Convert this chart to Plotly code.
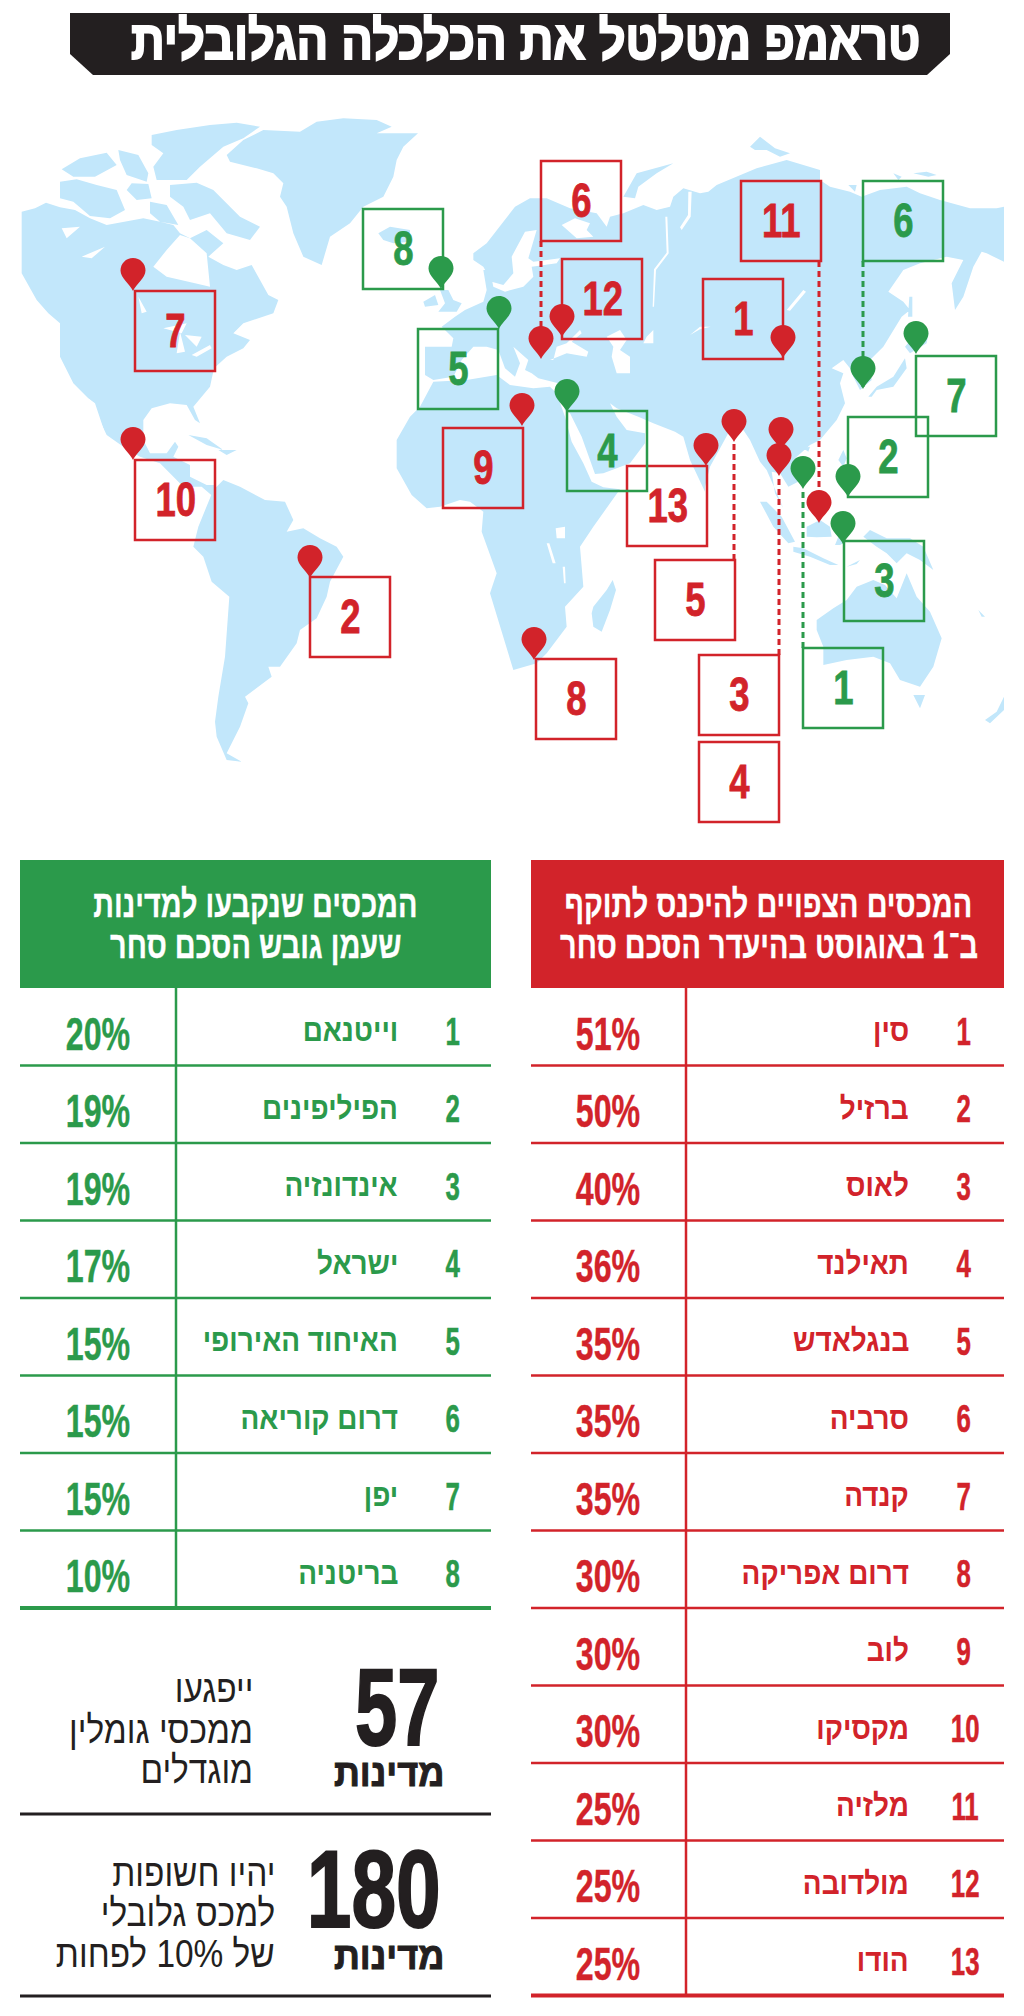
import json

import plotly.graph_objects as go

RED = "#d2232a"
GREEN = "#2b9a4b"
DARK = "#231f20"
LAND = "#c2e7fb"
FONT = "Liberation Sans, Arial, sans-serif"

TITLE = "טראמפ מטלטל את הכלכלה הגלובלית"
RED_HEADER = ["המכסים הצפויים להיכנס לתוקף", "ב־1 באוגוסט בהיעדר הסכם סחר"]
GREEN_HEADER = ["המכסים שנקבעו למדינות", "שעמן גובש הסכם סחר"]

red_names = ["סין", "ברזיל", "לאוס", "תאילנד", "בנגלאדש", "סרביה", "קנדה",
             "דרום אפריקה", "לוב", "מקסיקו", "מלזיה", "מולדובה", "הודו"]
red_rates = [51, 50, 40, 36, 35, 35, 35, 30, 30, 30, 25, 25, 25]
green_names = ["וייטנאם", "הפיליפינים", "אינדונזיה", "ישראל", "האיחוד האירופי",
               "דרום קוריאה", "יפן", "בריטניה"]
green_rates = [20, 19, 19, 17, 15, 15, 15, 10]

stat_values = ["57", "180"]
stat_unit = "מדינות"
stat_lines = [["ייפגעו", "ממכסי גומלין", "מוגדלים"],
              ["יהיו חשופות", "למכס גלובלי", "של 10% לפחות"]]

# map callouts, rank order: box corner and pin tip in page pixels
red_box_x = [703, 310, 699, 699, 655, 541, 135, 536, 443, 135, 741, 562, 627]
red_box_y = [279, 577, 655, 742, 560, 161, 291, 659, 428, 460, 181, 259, 466]
red_pin_x = [783, 310, 779, 781, 734, 541, 133, 534, 522, 133, 819, 562, 706]
red_pin_y = [358, 578, 476, 450, 442, 359, 291, 660, 426, 460, 523, 337, 466]
green_box_x = [803, 848, 844, 567, 418, 863, 916, 363]
green_box_y = [648, 417, 541, 411, 329, 181, 356, 209]
green_pin_x = [803, 848, 843, 567, 499, 863, 916, 441]
green_pin_y = [489, 497, 544, 412, 329, 389, 354, 289]
# rank -> (x, y_from_box, y_to_pin)
red_leaders = {6: (541, 241, 330), 11: (819, 261, 492), 5: (734, 560, 442), 3: (779, 655, 476)}
green_leaders = {1: (803, 648, 489), 6: (863, 261, 389)}

# coastlines, each list in its own 3x crop
NA = (10, 110)
SA = (130, 470)
EU = (390, 130)
AF = (390, 400)
AS = (680, 120)
OC = (700, 430)


def crop(origin, points):
    return [(origin[0] + x / 3, origin[1] + y / 3) for x, y in points]


eurasia = (
    crop(EU, [(525, 840), (505, 790), (505, 760), (445, 745), (425, 730), (405, 720), (415, 690),
              (370, 650), (390, 700), (375, 740), (345, 715), (325, 660), (290, 650), (250, 650),
              (215, 690), (190, 740), (130, 750), (105, 735), (105, 650), (185, 650), (190, 625),
              (155, 590), (195, 560), (225, 540), (280, 515), (290, 480), (280, 420), (300, 420),
              (310, 470), (345, 485), (400, 470), (430, 440), (425, 410), (500, 400), (510, 385),
              (430, 395), (415, 385), (440, 300), (405, 305), (365, 380), (370, 430), (340, 465),
              (305, 455), (280, 410), (250, 390), (250, 370), (290, 340), (340, 275), (375, 230),
              (420, 205), (470, 205), (540, 235), (620, 250), (650, 290), (660, 260), (700, 250),
              (760, 225), (800, 240), (840, 230), (850, 200), (880, 175), (930, 190), (955, 185)])
    + crop(AS, [(110, 195), (170, 170), (230, 145), (320, 120), (370, 135), (420, 150), (420, 180),
                (450, 200), (510, 215), (545, 230), (600, 210), (680, 200), (720, 220), (780, 240),
                (870, 265), (950, 265), (972, 260), (972, 425), (920, 400), (905, 395), (880, 440),
                (850, 530), (825, 570), (815, 490), (850, 420), (800, 410), (720, 430), (670, 450),
                (625, 515), (670, 545), (690, 570), (665, 590), (610, 680), (570, 720), (575, 780),
                (540, 810), (520, 770), (510, 745), (490, 720), (455, 745), (490, 760), (480, 790),
                (495, 850), (470, 900), (420, 960)])
    + crop(OC, [(360, 30), (330, 45), (285, 85), (305, 150), (265, 170), (240, 130), (215, 125),
                (225, 190), (250, 235), (232, 195), (200, 120), (180, 95), (150, 30), (130, 0),
                (90, 0), (30, 110), (15, 170)])
    + crop(AF, [(945, 275), (900, 180), (880, 110), (855, 95), (790, 70), (745, 50), (680, 25),
                (660, 10), (680, 50), (710, 90), (765, 100), (765, 130), (720, 190), (640, 220),
                (615, 222), (575, 110), (540, 40)])
)

land = [
    eurasia,
    crop(NA, [(35, 305), (75, 295), (108, 278), (150, 292), (195, 300), (240, 325), (290, 345),
              (340, 335), (400, 325), (450, 335), (490, 345), (510, 370), (540, 385), (590, 360),
              (640, 400), (595, 440), (640, 465), (680, 480), (725, 465), (750, 510), (775, 555),
              (805, 570), (790, 610), (700, 640), (670, 670), (720, 690), (700, 715), (650, 740),
              (612, 775), (600, 830), (565, 870), (550, 890), (570, 940), (555, 930), (530, 885),
              (480, 880), (425, 895), (400, 930), (400, 990), (420, 1030), (470, 1030), (495, 995),
              (505, 1010), (490, 1040), (540, 1065), (540, 1100), (590, 1125), (615, 1125),
              (610, 1160), (575, 1130), (520, 1130), (450, 1060), (390, 1040), (340, 1010),
              (290, 975), (240, 870), (190, 820), (150, 740), (150, 640), (115, 610), (80, 570),
              (35, 490)]),
    crop(NA, [(150, 215), (200, 208), (260, 225), (320, 240), (345, 300), (300, 325), (240, 318),
              (190, 275), (150, 265)]),
    crop(NA, [(155, 178), (210, 145), (290, 128), (320, 165), (255, 200), (190, 200)]),
    crop(NA, [(325, 120), (385, 135), (415, 190), (410, 215), (350, 195), (330, 150)]),
    crop(NA, [(425, 75), (500, 60), (600, 45), (680, 38), (750, 50), (700, 85), (640, 110),
              (570, 170), (530, 210), (440, 210), (430, 170), (460, 130), (425, 105)]),
    crop(NA, [(480, 225), (560, 218), (610, 240), (660, 290), (690, 320), (750, 350), (720, 390),
              (650, 370), (600, 310), (540, 330), (520, 290), (480, 260)]),
    crop(NA, [(365, 220), (415, 222), (425, 265), (380, 270), (350, 240)]),
    crop(NA, [(420, 275), (470, 285), (505, 345), (450, 335), (420, 310)]),
    crop(NA, [(650, 135), (700, 90), (760, 60), (870, 65), (920, 35), (1000, 25), (1100, 30),
              (1145, 50), (1100, 70), (1224, 70), (1180, 110), (1160, 150), (1150, 200), (1120, 260),
              (1060, 290), (1020, 340), (960, 380), (935, 465), (880, 440), (850, 370), (830, 290),
              (810, 260), (820, 220), (790, 190), (740, 175), (660, 155)]),
    crop(NA, [(1105, 370), (1140, 350), (1200, 360), (1200, 395), (1150, 400), (1120, 390)]),
    crop(NA, [(535, 975), (590, 985), (640, 1020), (590, 1005)]),
    crop(NA, [(625, 1020), (680, 1020), (650, 1035)]),
    crop(SA, [(190, 230), (205, 170), (250, 60), (280, 30), (330, 50), (405, 90), (465, 95),
              (490, 150), (470, 185), (520, 175), (570, 205), (620, 230), (640, 260), (600, 335),
              (590, 380), (560, 445), (510, 480), (500, 520), (450, 590), (415, 590), (425, 620),
              (370, 660), (345, 680), (355, 700), (330, 770), (290, 850), (335, 875), (290, 870),
              (260, 800), (255, 755), (265, 680), (285, 560), (298, 380), (245, 335), (220, 260)]),
    crop(AF, [(20, 120), (60, 50), (90, 20), (130, -55), (230, -60), (320, -75), (360, -45),
              (430, -35), (480, -40), (500, -20), (525, 50), (545, 125), (580, 190), (605, 245),
              (640, 262), (690, 268), (660, 310), (610, 380), (570, 440), (580, 560), (525, 620),
              (530, 680), (470, 760), (440, 790), (370, 810), (355, 760), (330, 680), (300, 580),
              (320, 520), (275, 395), (280, 335), (240, 305), (210, 300), (150, 320), (110, 325),
              (65, 285), (20, 205)]),
    crop(AF, [(610, 620), (650, 570), (668, 540), (678, 570), (660, 630), (635, 695), (610, 680),
              (605, 640)]),
    crop(EU, [(150, 480), (175, 480), (190, 510), (215, 520), (200, 545), (145, 545), (165, 520)]),
    crop(EU, [(100, 515), (135, 495), (145, 525), (105, 530)]),
    crop(EU, [(700, 200), (740, 130), (850, 100), (800, 130), (745, 170), (735, 205)]),
    crop(AS, [(210, 80), (240, 50), (285, 85), (330, 100), (300, 110), (260, 90), (225, 90)]),
    crop(AS, [(640, 160), (665, 170), (655, 180)]),
    crop(AS, [(700, 160), (740, 155), (770, 165), (745, 170)]),
    crop(AS, [(505, 195), (530, 195), (525, 215)]),
    crop(AS, [(565, 830), (590, 800), (640, 770), (675, 715), (680, 745), (640, 800), (590, 810),
              (575, 830)]),
    crop(AS, [(675, 680), (700, 650), (745, 640), (740, 670), (690, 700)]),
    crop(AS, [(688, 530), (697, 530), (697, 590), (684, 590)]),
    crop(OC, [(310, 55), (330, 50), (325, 65)]),
    crop(OC, [(415, 90), (430, 60), (440, 85), (430, 110)]),
    crop(OC, [(180, 215), (200, 215), (245, 260), (285, 335), (265, 340), (220, 290)]),
    crop(OC, [(280, 350), (310, 355), (370, 385), (415, 405), (390, 405), (330, 380), (280, 365)]),
    crop(OC, [(320, 290), (360, 270), (390, 290), (395, 320), (350, 322), (320, 320)]),
    crop(OC, [(405, 345), (415, 320), (430, 340), (420, 345)]),
    crop(OC, [(510, 300), (560, 325), (630, 325), (670, 350), (700, 420), (660, 390), (620, 370),
              (590, 400), (560, 370), (530, 350), (490, 320)]),
    crop(OC, [(440, 410), (480, 390), (470, 402)]),
    crop(OC, [(350, 570), (400, 535), (440, 510), (470, 470), (520, 450), (555, 465), (590, 505),
              (620, 430), (650, 500), (690, 545), (725, 625), (700, 710), (660, 770), (600, 750),
              (570, 700), (520, 680), (440, 690), (370, 705), (370, 650), (350, 600)]),
    crop(OC, [(640, 795), (675, 795), (660, 835)]),
    crop(OC, [(855, 870), (890, 845), (912, 800), (912, 840), (870, 880)]),
    crop(OC, [(835, 540), (855, 560), (845, 560)]),
]

water = [
    crop(NA, [(430, 470), (470, 420), (510, 375), (540, 385), (590, 430), (600, 530), (555, 520),
              (470, 500)]),
    crop(NA, [(155, 355), (210, 350), (170, 385)]),
    crop(NA, [(215, 440), (285, 410), (245, 445)]),
    crop(NA, [(385, 560), (410, 605), (395, 610)]),
    crop(NA, [(460, 655), (530, 640), (515, 670)]),
    crop(NA, [(510, 665), (525, 725), (500, 730)]),
    crop(NA, [(525, 675), (575, 680), (560, 710)]),
    crop(NA, [(545, 735), (600, 705), (605, 715), (560, 740)]),
    crop(NA, [(235, 865), (255, 880), (285, 970), (260, 950)]),
    crop(EU, [(515, 285), (555, 265), (600, 280), (590, 300), (610, 320), (560, 325)]),
    crop(EU, [(490, 690), (500, 650), (530, 640), (570, 600), (575, 610), (545, 635), (595, 665),
              (590, 680), (530, 670), (480, 690)]),
    crop(EU, [(650, 620), (690, 600), (710, 630), (690, 660), (720, 680), (720, 730), (680, 730),
              (665, 680), (670, 650)]),
    crop(EU, [(770, 620), (790, 600), (790, 640), (760, 640)]),
    crop(EU, [(826, 260), (832, 260), (836, 370), (798, 420), (792, 530), (788, 530), (792, 418),
              (830, 368)]),
    crop(AS, [(25, 215), (35, 215), (32, 290), (5, 330), (0, 322), (24, 285)]),
    crop(AF, [(497, 385), (525, 380), (525, 415), (500, 415)]),
    crop(AF, [(470, 430), (478, 430), (497, 490), (488, 490)]),
    crop(AF, [(518, 500), (525, 500), (527, 550), (522, 550)]),
    crop(AS, [(320, 570), (370, 510), (378, 515), (330, 572)]),
    crop(AS, [(30, 645), (60, 620), (92, 620), (60, 628)]),
]


def flatten(polygons):
    xs, ys = [], []
    for polygon in polygons:
        xs += [p[0] for p in polygon] + [polygon[0][0], None]
        ys += [p[1] for p in polygon] + [polygon[0][1], None]
    return xs, ys


fig = go.Figure()
for polygons, colour in ((land, LAND), (water, "white")):
    xs, ys = flatten(polygons)
    fig.add_trace(go.Scatter(x=xs, y=ys, mode="lines", fill="toself", fillcolor=colour,
                             line=dict(width=0, color=colour), hoverinfo="skip"))

shapes = []
annotations = []
squeeze = []


def text(x, y, label, size, colour, anchor="center", bold=True, narrow=0.7, heavy=0):
    annotations.append(dict(x=x, y=y, text=f"<b>{label}</b>" if bold else label, showarrow=False,
                            xanchor=anchor, yanchor="middle", xref="x", yref="y",
                            font=dict(family=FONT, size=size, color=colour)))
    squeeze.append(dict(narrow=narrow, right=anchor == "right", heavy=heavy, colour=colour))


def line(x0, y0, x1, y1, colour, width, dash="solid"):
    shapes.append(dict(type="line", x0=x0, y0=y0, x1=x1, y1=y1, xref="x", yref="y",
                       line=dict(color=colour, width=width, dash=dash)))


def pin(x, y, colour):
    r = 12.5
    path = (f"M {x} {y} C {x - 3} {y - 7} {x - r} {y - 13} {x - r} {y - 20.5} "
            f"C {x - r} {y - 27.5} {x - 7} {y - 33} {x} {y - 33} "
            f"C {x + 7} {y - 33} {x + r} {y - 27.5} {x + r} {y - 20.5} "
            f"C {x + r} {y - 13} {x + 3} {y - 7} {x} {y} Z")
    shapes.append(dict(type="path", path=path, xref="x", yref="y", fillcolor=colour,
                       line=dict(width=0)))


# title banner
shapes.append(dict(type="path", path="M 70 13 L 950 13 L 950 54 L 927 75 L 93 75 L 70 54 Z",
                   xref="x", yref="y", fillcolor=DARK, line=dict(width=0)))
text(525, 40, TITLE, 54, "white", narrow=0.87, heavy=2)

# map callouts
for colour, bx, by, px, py, leaders in (
    (RED, red_box_x, red_box_y, red_pin_x, red_pin_y, red_leaders),
    (GREEN, green_box_x, green_box_y, green_pin_x, green_pin_y, green_leaders),
):
    for rank, (x, y0, y1) in leaders.items():
        line(x, y0, x, y1, colour, 3, "6px,4px")
    for i, (x, y) in enumerate(zip(bx, by)):
        shapes.append(dict(type="rect", x0=x, y0=y, x1=x + 80, y1=y + 80, xref="x", yref="y",
                           line=dict(color=colour, width=2.5)))
        text(x + 40, y + 39, str(i + 1), 48, colour, narrow=0.76, heavy=0.8)
for colour, px, py in ((GREEN, green_pin_x, green_pin_y), (RED, red_pin_x, red_pin_y)):
    for x, y in zip(px, py):
        pin(x, y, colour)

# tables
ROW = 77.5
TOP = 988
for colour, left, right, split, rank_x, name_x, rate_x, header, names, rates in (
    (RED, 531, 1004, 686, 963, 911, 608, RED_HEADER, red_names, red_rates),
    (GREEN, 20, 491, 176, 452, 400, 98, GREEN_HEADER, green_names, green_rates),
):
    shapes.append(dict(type="rect", x0=left, y0=860, x1=right, y1=TOP, xref="x", yref="y",
                       fillcolor=colour, line=dict(width=0)))
    centre = (left + right) / 2 + (1 if colour == RED else 0)
    text(centre, 904, header[0], 38, "white", narrow=0.76, heavy=0.3)
    text(centre, 945, header[1], 38, "white", narrow=0.76, heavy=0.3)
    bottom = TOP + ROW * len(names)
    line(split, TOP, split, bottom, colour, 2.5)
    for i, (name, rate) in enumerate(zip(names, rates)):
        y = TOP + ROW * (i + 0.5)
        line(left, TOP + ROW * (i + 1), right, TOP + ROW * (i + 1), colour,
             4 if i == len(names) - 1 else 2.5)
        text(rank_x if i < 9 else rank_x + 2, y + 5, str(i + 1), 38, colour, narrow=0.68, heavy=0.5)
        text(name_x, y + 4, name, 31, colour, "right", narrow=0.9)
        text(rate_x, y + 7, f"{rate}%", 46, colour, heavy=0.4)

# stats
for value, unit_y, value_y, value_x, narrow, rule_y, text_x, text_ys, lines in (
    (stat_values[0], 1773, 1706, 397, 0.69, 1814, 255, (1689, 1730, 1770), stat_lines[0]),
    (stat_values[1], 1956, 1888, 374, 0.73, 1996, 277, (1873, 1913, 1954), stat_lines[1]),
):
    text(value_x, value_y, value, 110, DARK, narrow=narrow, heavy=2)
    text(389, unit_y, stat_unit, 38, DARK, narrow=0.95, heavy=1)
    for y, label in zip(text_ys, lines):
        text(text_x, y, label, 38, DARK, "right", bold=False, narrow=0.88)
    line(20, rule_y, 491, rule_y, DARK, 3)

fig.update_layout(
    width=1024, height=2016, margin=dict(l=0, r=0, t=0, b=0), showlegend=False,
    paper_bgcolor="white", plot_bgcolor="white", shapes=shapes, annotations=annotations,
    xaxis=dict(range=[0, 1024], visible=False, fixedrange=True),
    yaxis=dict(range=[2016, 0], visible=False, fixedrange=True),
)

# the paper's type is condensed and no installed face is, so narrow the real text in place
post_script = """
document.body.style.margin = '0';
var specs = %s;
document.querySelectorAll('.annotation').forEach(function (note) {
    var spec = specs[+note.getAttribute('data-index')];
    var t = note.querySelector('text');
    var box = t.getBBox();
    var pivot = spec.right ? box.x + box.width : box.x + box.width / 2;
    t.setAttribute('transform', 'translate(' + pivot + ',0) scale(' + spec.narrow + ',1) translate(' + (-pivot) + ',0)');
    if (spec.heavy) {
        t.style.stroke = spec.colour;
        t.style.strokeWidth = spec.heavy + 'px';
    }
});
""" % json.dumps(squeeze)

fig.write_html("out.html", post_script=post_script, config=dict(displayModeBar=False))
